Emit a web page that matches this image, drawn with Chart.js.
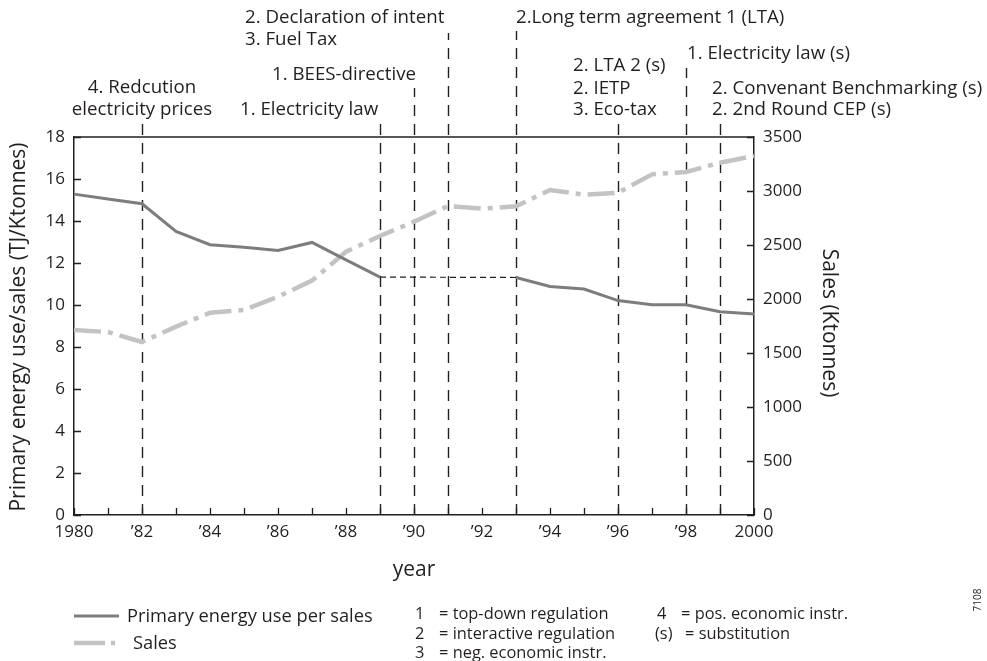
<!DOCTYPE html>
<html>
<head>
<meta charset="utf-8">
<script src="https://cdn.jsdelivr.net/npm/chart.js@4/dist/chart.umd.min.js"></script>
<style>
  html, body { margin: 0; padding: 0; background: #fff; }
  #wrap { width: 987px; height: 661px; position: relative; }
</style>
</head>
<body>
<div id="wrap"><canvas id="c"></canvas></div>
<script>
// Years on the horizontal axis
const years = [1980, 1981, 1982, 1983, 1984, 1985, 1986, 1987, 1988, 1989, 1990,
               1991, 1992, 1993, 1994, 1995, 1996, 1997, 1998, 1999, 2000];

// Primary energy use per sales (TJ/Ktonnes); no data for 1990-1992
const energyUse = [15.28, 15.05, 14.82, 13.5, 12.87, 12.75, 12.6, 12.98, 12.15, 11.33, null,
                   null, null, 11.31, 10.88, 10.76, 10.21, 10.01, 10.01, 9.68, 9.57];

// Sales (Ktonnes)
const sales = [1713, 1694, 1602, 1744, 1873, 1898, 2021, 2170, 2438, 2583, 2716,
               2861, 2836, 2858, 3009, 2966, 2984, 3154, 3176, 3262, 3324];

// Years in which a policy instrument was introduced
const policyYears = [1982, 1989, 1990, 1991, 1993, 1996, 1998, 1999];

// Tick values of both value axes
const energyTicks = [0, 2, 4, 6, 8, 10, 12, 14, 16, 18];
const salesTicks = [0, 500, 1000, 1500, 2000, 2500, 3000, 3500];

// Bridge across the missing years: only the last value before and the first after the gap
const gapStart = energyUse.findIndex((v, i) => v !== null && energyUse[i + 1] === null);
const gapEnd = energyUse.findIndex((v, i) => i > gapStart && v !== null);
const energyBridge = energyUse.map((v, i) => (i === gapStart || i === gapEnd) ? v : null);

const FONT = '"Open Sans", "DejaVu Sans", sans-serif';
const INK = '#231f20';

// How far up each policy marker line reaches (canvas px)
const markerTop = {1982: 123, 1989: 123, 1990: 88, 1991: 33, 1993: 31, 1996: 124, 1998: 68, 1999: 123};

// Policy notes above the plot: [text, x, baseline, align]
const notes = [
  ['2. Declaration of intent', 245, 23, 'left'],
  ['3. Fuel Tax', 245, 45, 'left'],
  ['1. BEES-directive', 272, 80, 'left'],
  ['4. Redcution', 142, 93, 'center'],
  ['electricity prices', 142, 115, 'center'],
  ['1. Electricity law', 240, 115, 'left'],
  ['2.Long term agreement 1 (LTA)', 516, 23, 'left'],
  ['1. Electricity law (s)', 687, 59, 'left'],
  ['2. LTA 2 (s)', 573, 71, 'left'],
  ['2. IETP', 573, 94, 'left'],
  ['3. Eco-tax', 573, 115, 'left'],
  ['2. Convenant Benchmarking (s)', 712, 94, 'left'],
  ['2. 2nd Round CEP (s)', 712, 115, 'left']
];

const decor = {
  id: 'decor',
  beforeDatasetsDraw(chart) {
    const ctx = chart.ctx, x = chart.scales.x, area = chart.chartArea;
    ctx.save();
    ctx.strokeStyle = INK;
    ctx.lineWidth = 1.4;
    ctx.setLineDash([11, 8]);
    policyYears.forEach(yr => {
      const px = Math.round(x.getPixelForValue(years.indexOf(yr))) + 0.5;
      ctx.beginPath();
      ctx.moveTo(px, area.bottom);
      ctx.lineTo(px, markerTop[yr]);
      ctx.stroke();
    });
    ctx.restore();
  },
  afterDraw(chart) {
    const ctx = chart.ctx, area = chart.chartArea;
    const {x, y, y2} = chart.scales;
    ctx.save();
    ctx.strokeStyle = INK;
    ctx.lineWidth = 1.5;
    // top edge of the frame
    ctx.beginPath();
    ctx.moveTo(area.left, area.top);
    ctx.lineTo(area.right, area.top);
    ctx.stroke();
    // inward tick marks
    ctx.lineWidth = 1.3;
    ctx.beginPath();
    years.forEach((yr, i) => {
      const px = Math.round(x.getPixelForValue(i)) + 0.5;
      ctx.moveTo(px, area.bottom);
      ctx.lineTo(px, area.bottom - 7);
    });
    energyTicks.forEach(v => {
      const py = Math.round(y.getPixelForValue(v)) + 0.5;
      ctx.moveTo(area.left, py);
      ctx.lineTo(area.left + 7, py);
    });
    salesTicks.forEach(v => {
      const py = Math.round(y2.getPixelForValue(v)) + 0.5;
      ctx.moveTo(area.right, py);
      ctx.lineTo(area.right - 7, py);
    });
    ctx.stroke();

    ctx.fillStyle = INK;
    // policy notes
    ctx.font = '18.7px ' + FONT;
    ctx.textBaseline = 'alphabetic';
    notes.forEach(([t, nx, ny, al]) => {
      ctx.textAlign = al;
      ctx.fillText(t, nx, ny);
    });

    // axis titles
    ctx.font = '21px ' + FONT;
    ctx.textAlign = 'center';
    ctx.textBaseline = 'middle';
    ctx.fillText('year', (area.left + area.right) / 2, 570);
    ctx.save();
    ctx.translate(19, (area.top + area.bottom) / 2 + 1);
    ctx.rotate(-Math.PI / 2);
    ctx.fillText('Primary energy use/sales (TJ/Ktonnes)', 0, 0);
    ctx.restore();
    ctx.save();
    ctx.translate(829, 323);
    ctx.rotate(Math.PI / 2);
    ctx.fillText('Sales (Ktonnes)', 0, 0);
    ctx.restore();

    // legend
    ctx.lineWidth = 3;
    ctx.strokeStyle = '#7d7d7d';
    ctx.setLineDash([]);
    ctx.beginPath();
    ctx.moveTo(74, 616);
    ctx.lineTo(119, 616);
    ctx.stroke();
    ctx.lineWidth = 4.5;
    ctx.strokeStyle = '#c3c3c3';
    ctx.setLineDash([31, 6, 5, 6]);
    ctx.beginPath();
    ctx.moveTo(74, 643);
    ctx.lineTo(115, 643);
    ctx.stroke();
    ctx.setLineDash([]);

    ctx.textAlign = 'left';
    ctx.textBaseline = 'alphabetic';
    ctx.font = '18.3px ' + FONT;
    ctx.fillText('Primary energy use per sales', 127, 622);
    ctx.fillText('Sales', 133, 649);

    ctx.font = '16.4px ' + FONT;
    const key = [
      ['1', '= top-down regulation', 415, 619],
      ['2', '= interactive regulation', 415, 639],
      ['3', '= neg. economic instr.', 415, 658],
      ['4', '= pos. economic instr.', 657, 619],
      ['(s)', '= substitution', 655, 639]
    ];
    key.forEach(([k, t, kx, ky]) => {
      ctx.fillText(k, kx, ky);
      ctx.fillText(t, kx + (k.length > 1 ? 30 : 24), ky);
    });

    ctx.save();
    ctx.font = '10px ' + FONT;
    ctx.translate(981, 600);
    ctx.rotate(-Math.PI / 2);
    ctx.textAlign = 'center';
    ctx.fillText('7108', 0, 0);
    ctx.restore();
    ctx.restore();
  }
};

const tickFont = { family: FONT, size: 17 };

new Chart(document.getElementById('c'), {
  type: 'line',
  data: {
    labels: years,
    datasets: [
      {
        label: 'Primary energy use per sales',
        data: energyUse,
        yAxisID: 'y',
        borderColor: '#7d7d7d',
        borderWidth: 3,
        pointRadius: 0,
        tension: 0,
        spanGaps: false
      },
      {
        label: 'gap',
        data: energyBridge,
        yAxisID: 'y',
        borderColor: INK,
        borderWidth: 1.2,
        borderDash: [6, 4],
        pointRadius: 0,
        spanGaps: true
      },
      {
        label: 'Sales',
        data: sales,
        yAxisID: 'y2',
        borderColor: '#c3c3c3',
        borderWidth: 4.5,
        borderDash: [27, 7, 5, 7],
        pointRadius: 0,
        tension: 0
      }
    ]
  },
  options: {
    responsive: true,
    maintainAspectRatio: false,
    animation: false,
    events: [],
    layout: { padding: { top: 137, left: 0, right: 0, bottom: 0 } },
    plugins: { legend: { display: false }, tooltip: { enabled: false } },
    scales: {
      x: {
        type: 'category',
        offset: false,
        grid: { display: false, drawTicks: false },
        border: { display: true, color: INK, width: 1.5 },
        ticks: {
          font: tickFont, color: INK, padding: 7, autoSkip: false, maxRotation: 0,
          callback(v, i) {
            const yr = years[i];
            if ((yr - years[0]) % 2) return '';
            if (i === 0 || i === years.length - 1) return String(yr);
            return '\u2019' + String(yr).slice(2);
          }
        },
        afterFit(s) { s.height = 146; }
      },
      y: {
        position: 'left',
        min: 0, max: 18,
        grid: { display: false, drawTicks: false },
        border: { display: true, color: INK, width: 1.5 },
        ticks: { stepSize: 2, font: tickFont, color: INK, padding: 9, callback: v => String(v) },
        afterFit(s) { s.width = 74; }
      },
      y2: {
        position: 'right',
        min: 0, max: 3500,
        grid: { display: false, drawTicks: false },
        border: { display: true, color: INK, width: 1.5 },
        ticks: { stepSize: 500, font: tickFont, color: INK, padding: 9, callback: v => String(v) },
        afterFit(s) { s.width = 233; }
      }
    }
  },
  plugins: [decor]
});
</script>
</body>
</html>
